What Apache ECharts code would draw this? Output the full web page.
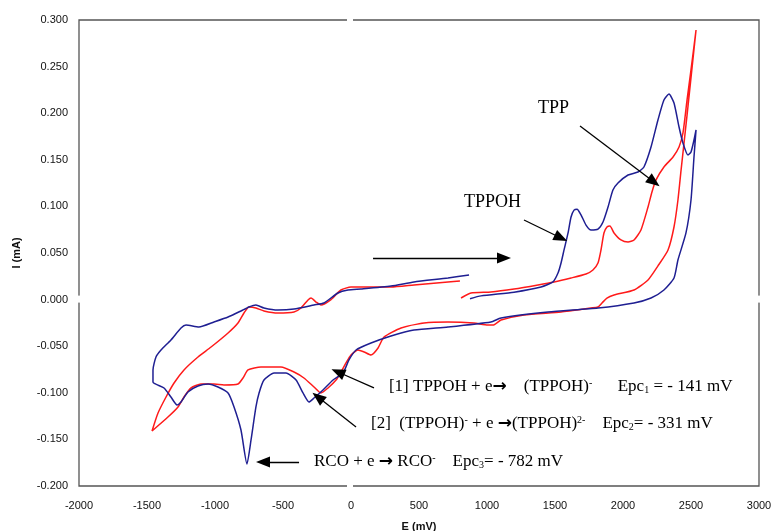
<!DOCTYPE html>
<html>
<head>
<meta charset="utf-8">
<script src="https://cdn.jsdelivr.net/npm/echarts@6/dist/echarts.min.js"></script>
<style>html,body{margin:0;padding:0;background:#fff}#c{width:774px;height:531px}</style>
</head>
<body>
<div id="c"></div>
<script>
// ---- data (E in mV, I in mA) ----
const blueE = [875,956,1199,1397,1485,1522,1544,1566,1596,1618,1640,1662,1691,1728,1765,1816,1853,1890,1926,1963,2037,2110,2154,2206,2257,2301,2338,2375,2412,2441,2478,2500,2522,2537,
2522,2500,2463,2404,2375,2301,2206,2081,1816,1449,1103,1029,713,463,294,147,37,-15,-59,-132,-206,-272,-309,-353,-404,-478,-566,-640,-676,-699,-735,-765,-809,-860,-904,-978,-1051,-1125,-1199,-1250,-1279,-1324,-1375,-1456,
-1456,-1434,-1397,-1324,-1250,-1213,-1118,-1007,-904,-809,-750,-699,-640,-537,-419,-272,-199,-96,-22,74,294,463,713,868];
const blueI = [0.001,0.004,0.008,0.0135,0.019,0.0285,0.039,0.053,0.0715,0.0886,0.096,0.097,0.091,0.080,0.0747,0.0757,0.0833,0.0994,0.1176,0.1251,0.1337,0.1369,0.1423,0.1637,0.1927,0.2142,0.2206,0.2109,0.1852,0.168,0.1551,0.1584,0.1712,0.182,
0.153,0.1069,0.0715,0.0425,0.0232,0.0103,0.0017,-0.0036,-0.009,-0.0133,-0.0197,-0.024,-0.0294,-0.0326,-0.039,-0.0466,-0.0541,-0.0648,-0.0788,-0.0863,-0.097,-0.1056,-0.1099,-0.1002,-0.0863,-0.0788,-0.0788,-0.0863,-0.1002,-0.1152,-0.1506,-0.1764,-0.1399,-0.1152,-0.1002,-0.0938,-0.0906,-0.0927,-0.0991,-0.1099,-0.1131,-0.1045,-0.0948,-0.0884,
-0.0755,-0.0616,-0.0541,-0.0433,-0.0305,-0.0273,-0.0294,-0.024,-0.0187,-0.0122,-0.0079,-0.0058,-0.009,-0.0112,-0.0101,-0.0058,-0.0036,0.0071,0.0103,0.0114,0.0146,0.0189,0.0232,0.0264];
const redE = [809,882,1029,1199,1375,1493,1618,1728,1779,1816,1838,1860,1882,1904,1934,1985,2037,2081,2132,2184,2213,2243,2301,2368,2412,2441,2471,2500,2537,
2471,2427,2404,2375,2331,2257,2184,2081,1934,1882,1846,1816,1765,1544,1272,1103,1044,1007,904,713,537,368,243,199,147,96,51,0,-37,-74,-110,-169,-221,-272,-346,-419,-515,-662,-757,-794,-831,-934,-1007,-1103,-1176,-1228,-1272,-1346,-1463,
-1419,-1360,-1301,-1228,-1125,-1029,-904,-831,-787,-750,-699,-640,-537,-419,-368,-316,-294,-257,-221,-147,-74,0,294,463,713,801];
const redI = [0.0017,0.0071,0.0082,0.0114,0.0157,0.0189,0.0232,0.0275,0.0318,0.0393,0.0532,0.0715,0.0779,0.079,0.0715,0.064,0.0618,0.064,0.0747,0.0994,0.1155,0.1284,0.1423,0.153,0.1637,0.1788,0.2142,0.2464,0.2893,
0.198,0.139,0.1069,0.0779,0.0532,0.0361,0.021,0.0103,0.0049,0.0017,-0.0036,-0.0079,-0.009,-0.0133,-0.0165,-0.0219,-0.0273,-0.0273,-0.0251,-0.024,-0.0251,-0.0305,-0.0401,-0.0519,-0.0594,-0.0562,-0.0541,-0.0594,-0.068,-0.0777,-0.0863,-0.0948,-0.1002,-0.0938,-0.0841,-0.0777,-0.0723,-0.0723,-0.0755,-0.0841,-0.0906,-0.0916,-0.0906,-0.0906,-0.0948,-0.1045,-0.1152,-0.126,-0.141,
-0.1217,-0.1045,-0.0895,-0.0755,-0.0616,-0.0509,-0.0358,-0.0251,-0.0144,-0.0079,-0.009,-0.0122,-0.0144,-0.0133,-0.009,-0.0004,0.0017,-0.0026,-0.0058,0,0.0103,0.0135,0.0135,0.0157,0.0189,0.02];

const xMin = -2000, xMax = 3000, xStep = 500;
const yMin = -0.2, yMax = 0.3, yStep = 0.05;

// ---- annotations (data coordinates) ----
const arrows = [
  [[1684,0.1863],[2228,0.1262]],
  [[1272,0.0854],[1544,0.0661]],
  [[162,0.0446],[1125,0.0446]],
  [[169,-0.0948],[-96,-0.0777]],
  [[37,-0.1367],[-243,-0.1045]],
  [[-382,-0.1742],[-647,-0.1742]]
];
const labels = [
  {at:[1375,0.2056], text:'{n|TPP}', size:18},
  {at:[831,0.1047], text:'{n|TPPOH}', size:18},
  {at:[279,-0.0938], text:'{n|[1] TPPOH + e}{ar|→}{n|    (TPPOH)}{sup|-}{n|      Epc}{sub|1}{n| = - 141 mV}', size:17},
  {at:[147,-0.1335], text:'{n|[2]  (TPPOH)}{sup|-}{n| + e }{ar|→}{n|(TPPOH)}{sup|2-}{n|    Epc}{sub|2}{n|= - 331 mV}', size:17},
  {at:[-272,-0.1742], text:'{n|RCO + e }{ar|→}{n| RCO}{sup|-}{n|    Epc}{sub|3}{n|= - 782 mV}', size:17}
];

const zip = (a,b) => a.map((v,i)=>[v,b[i]]);
const chart = echarts.init(document.getElementById('c'), null, {renderer:'canvas'});
const axisFont = {fontFamily:'Liberation Sans, Arial, sans-serif', fontSize:11, color:'#111'};

chart.setOption({
  animation:false,
  grid:{left:79, right:15, top:20, bottom:45, show:true, borderColor:'#555', borderWidth:1.3, backgroundColor:'#fff',
        containLabel:false, outerBoundsMode:'none'},
  xAxis:{type:'value', min:xMin, max:xMax, interval:xStep,
    name:'E (mV)', nameLocation:'middle', nameGap:35,
    nameTextStyle:{fontFamily:'Liberation Sans, Arial, sans-serif', fontSize:11, fontWeight:'bold', color:'#111'},
    axisLine:{show:false, onZero:false}, axisTick:{show:false}, splitLine:{show:false},
    axisLabel:Object.assign({margin:14, formatter:v=>String(v)}, axisFont)},
  yAxis:{type:'value', min:yMin, max:yMax, interval:yStep,
    name:'I (mA)', nameLocation:'middle', nameGap:57, nameRotate:90,
    nameTextStyle:{fontFamily:'Liberation Sans, Arial, sans-serif', fontSize:11, fontWeight:'bold', color:'#111'},
    axisLine:{show:false, onZero:false}, axisTick:{show:false}, splitLine:{show:false},
    axisLabel:Object.assign({margin:11, formatter:v=>v.toFixed(3)}, axisFont)},
  series:[
    {type:'line', name:'blue', data:zip(blueE,blueI), showSymbol:false, smooth:0.2,
     lineStyle:{color:'#1f1f92', width:1.5}, z:3,
     markLine:{silent:true, symbol:['none','triangle'], symbolSize:[11,14], animation:false,
       label:{show:false}, lineStyle:{color:'#000', type:'solid', width:1.3},
       emphasis:{disabled:true},
       data: arrows.map(a=>[{coord:a[0]},{coord:a[1]}])}},
    {type:'line', name:'red', data:zip(redE,redI), showSymbol:false, smooth:0.2,
     lineStyle:{color:'#ff1a1a', width:1.5}, z:2}
  ]
});

function addGraphics(){
  const g = [];
  const rich = (s)=>({
    n:{fontSize:s, fontFamily:'Liberation Serif, "Times New Roman", serif', color:'#000'},
    ar:{fontSize:s, fontFamily:'DejaVu Sans, sans-serif', fontWeight:'bold', color:'#000'},
    sup:{fontSize:Math.round(s*0.6), fontFamily:'Liberation Serif, serif', color:'#000', verticalAlign:'top'},
    sub:{fontSize:Math.round(s*0.6), fontFamily:'Liberation Serif, serif', color:'#000', verticalAlign:'bottom'}
  });
  labels.forEach(l=>{
    const p = chart.convertToPixel({gridIndex:0}, l.at);
    g.push({type:'text', x:p[0], y:p[1], z:10, silent:true,
      style:{text:l.text, rich:rich(l.size), align:'left', verticalAlign:'middle', fill:'#000',
        font: l.size+'px "Liberation Serif"'}});
  });
  // small gaps in the frame where the zero lines meet it
  const x0 = chart.convertToPixel({gridIndex:0}, [0, yMax]);
  const x0b = chart.convertToPixel({gridIndex:0}, [0, yMin]);
  const y0l = chart.convertToPixel({gridIndex:0}, [xMin, 0]);
  const y0r = chart.convertToPixel({gridIndex:0}, [xMax, 0]);
  g.push({type:'rect', shape:{x:x0[0]-4, y:x0[1]-2, width:6, height:4}, style:{fill:'#fff'}, z:20, silent:true});
  g.push({type:'rect', shape:{x:x0b[0]-4, y:x0b[1]-2, width:6, height:4}, style:{fill:'#fff'}, z:20, silent:true});
  g.push({type:'rect', shape:{x:y0l[0]-2, y:y0l[1]-4, width:4, height:7}, style:{fill:'#fff'}, z:20, silent:true});
  g.push({type:'rect', shape:{x:y0r[0]-2, y:y0r[1]-4, width:4, height:7}, style:{fill:'#fff'}, z:20, silent:true});
  chart.setOption({graphic:g});
}
addGraphics();
</script>
</body>
</html>
